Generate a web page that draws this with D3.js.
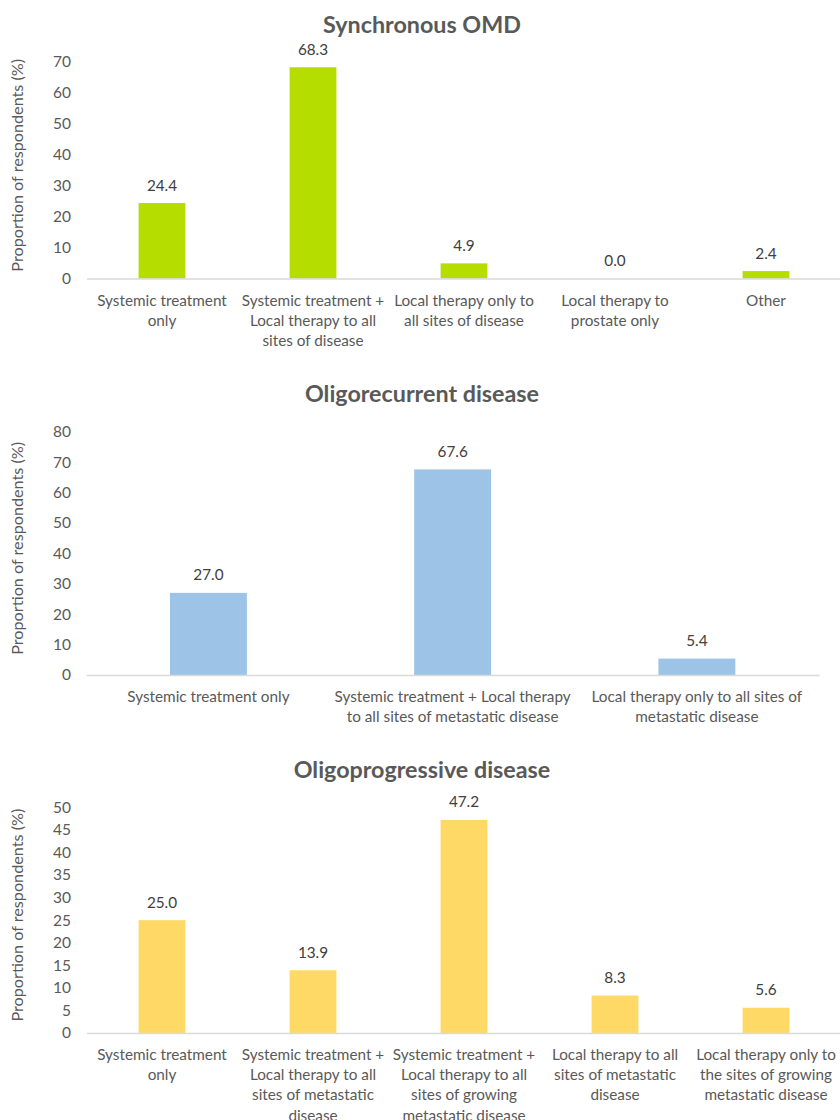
<!DOCTYPE html>
<html>
<head>
<meta charset="utf-8">
<script src="https://cdn.jsdelivr.net/npm/d3@7"></script>
<style>
  html, body { margin: 0; padding: 0; background: #fff; }
  svg { display: block; }
  text { font-family: Lato, "Open Sans", sans-serif; }
</style>
</head>
<body>
<svg id="chart" width="840" height="1120"></svg>
<script>
// ---------- DATA ----------
const titles = ["Synchronous OMD", "Oligorecurrent disease", "Oligoprogressive disease"];
const yAxisTitle = "Proportion of respondents (%)";

const synchronousCategories = [
  ["Systemic treatment", "only"],
  ["Systemic treatment +", "Local therapy to all", "sites of disease"],
  ["Local therapy only to", "all sites of disease"],
  ["Local therapy to", "prostate only"],
  ["Other"]
];
const synchronousValues = [24.4, 68.3, 4.9, 0.0, 2.4];
const synchronousTicks = [0, 10, 20, 30, 40, 50, 60, 70];

const oligorecurrentCategories = [
  ["Systemic treatment only"],
  ["Systemic treatment + Local therapy", "to all sites of metastatic disease"],
  ["Local therapy only to all sites of", "metastatic disease"]
];
const oligorecurrentValues = [27.0, 67.6, 5.4];
const oligorecurrentTicks = [0, 10, 20, 30, 40, 50, 60, 70, 80];

const oligoprogressiveCategories = [
  ["Systemic treatment", "only"],
  ["Systemic treatment +", "Local therapy to all", "sites of metastatic", "disease"],
  ["Systemic treatment +", "Local therapy to all", "sites of growing", "metastatic disease"],
  ["Local therapy to all", "sites of metastatic", "disease"],
  ["Local therapy only to", "the sites of growing", "metastatic disease"]
];
const oligoprogressiveValues = [25.0, 13.9, 47.2, 8.3, 5.6];
const oligoprogressiveTicks = [0, 5, 10, 15, 20, 25, 30, 35, 40, 45, 50];

// ---------- LAYOUT ----------
const panels = [
  { title: titles[0], cats: synchronousCategories, vals: synchronousValues, ticks: synchronousTicks,
    color: "#B5DD00", titleY: 33, top: 62, base: 278.5, x0: 86.5, x1: 841.5, barFrac: 0.31, labelY: 306 },
  { title: titles[1], cats: oligorecurrentCategories, vals: oligorecurrentValues, ticks: oligorecurrentTicks,
    color: "#9DC3E6", titleY: 401.5, top: 431.7, base: 675, x0: 86.3, x1: 819, barFrac: 0.315, labelY: 701.5 },
  { title: titles[2], cats: oligoprogressiveCategories, vals: oligoprogressiveValues, ticks: oligoprogressiveTicks,
    color: "#FFD966", titleY: 777.5, top: 807.3, base: 1033, x0: 86.5, x1: 841.5, barFrac: 0.31, labelY: 1060 }
];

const svg = d3.select("#chart");
const FS = 15.3;

panels.forEach(p => {
  const g = svg.append("g");
  const idx = d3.range(p.vals.length);
  const x = d3.scaleBand().domain(idx).range([p.x0, p.x1]).padding(0);
  const yMax = p.ticks[p.ticks.length - 1];
  const y = d3.scaleLinear().domain([0, yMax]).range([p.base, p.top]);
  const bw = x.bandwidth() * p.barFrac;

  // Title
  g.append("text")
    .attr("x", 422).attr("y", p.titleY)
    .attr("text-anchor", "middle")
    .attr("font-size", 23.3).attr("font-weight", "bold")
    .attr("fill", "#595959")
    .text(p.title);

  // Y axis ticks (no line)
  const yAxis = d3.axisLeft(y).tickValues(p.ticks).tickSize(0).tickPadding(0).tickFormat(d3.format("d"));
  const ya = g.append("g").attr("transform", `translate(71,0)`).call(yAxis);
  ya.select(".domain").remove();
  ya.selectAll("text")
    .attr("font-family", "Lato, 'Open Sans', sans-serif")
    .attr("font-size", 15.5).attr("fill", "#595959");

  // Y axis title
  g.append("text")
    .attr("transform", `translate(23,${(p.top + p.base) / 2 - 5}) rotate(-90)`)
    .attr("text-anchor", "middle")
    .attr("font-size", 16.2).attr("fill", "#595959")
    .text(yAxisTitle);

  // Bars
  g.selectAll("rect.bar").data(p.vals).enter().append("rect")
    .attr("class", "bar")
    .attr("x", (d, i) => x(i) + (x.bandwidth() - bw) / 2)
    .attr("y", d => y(d))
    .attr("width", bw)
    .attr("height", d => y(0) - y(d))
    .attr("fill", p.color);

  // Baseline axis
  const xAxis = d3.axisBottom(x).tickSize(0).tickFormat("");
  const xa = g.append("g").attr("transform", `translate(0,${p.base})`).call(xAxis);
  xa.select(".domain").attr("stroke", "#D9D9D9").attr("stroke-width", 1.5);
  xa.selectAll(".tick").remove();

  // Value labels
  g.selectAll("text.val").data(p.vals).enter().append("text")
    .attr("class", "val")
    .attr("x", (d, i) => x(i) + x.bandwidth() / 2)
    .attr("y", d => y(d) - 12.5)
    .attr("text-anchor", "middle")
    .attr("font-size", FS).attr("fill", "#404040")
    .text(d => d3.format(".1f")(d));

  // Category labels
  p.cats.forEach((lines, i) => {
    const t = g.append("text")
      .attr("text-anchor", "middle")
      .attr("font-size", FS).attr("fill", "#595959");
    lines.forEach((ln, j) => {
      t.append("tspan")
        .attr("x", x(i) + x.bandwidth() / 2)
        .attr("y", p.labelY + j * 20.2)
        .text(ln);
    });
  });
});
</script>
</body>
</html>
